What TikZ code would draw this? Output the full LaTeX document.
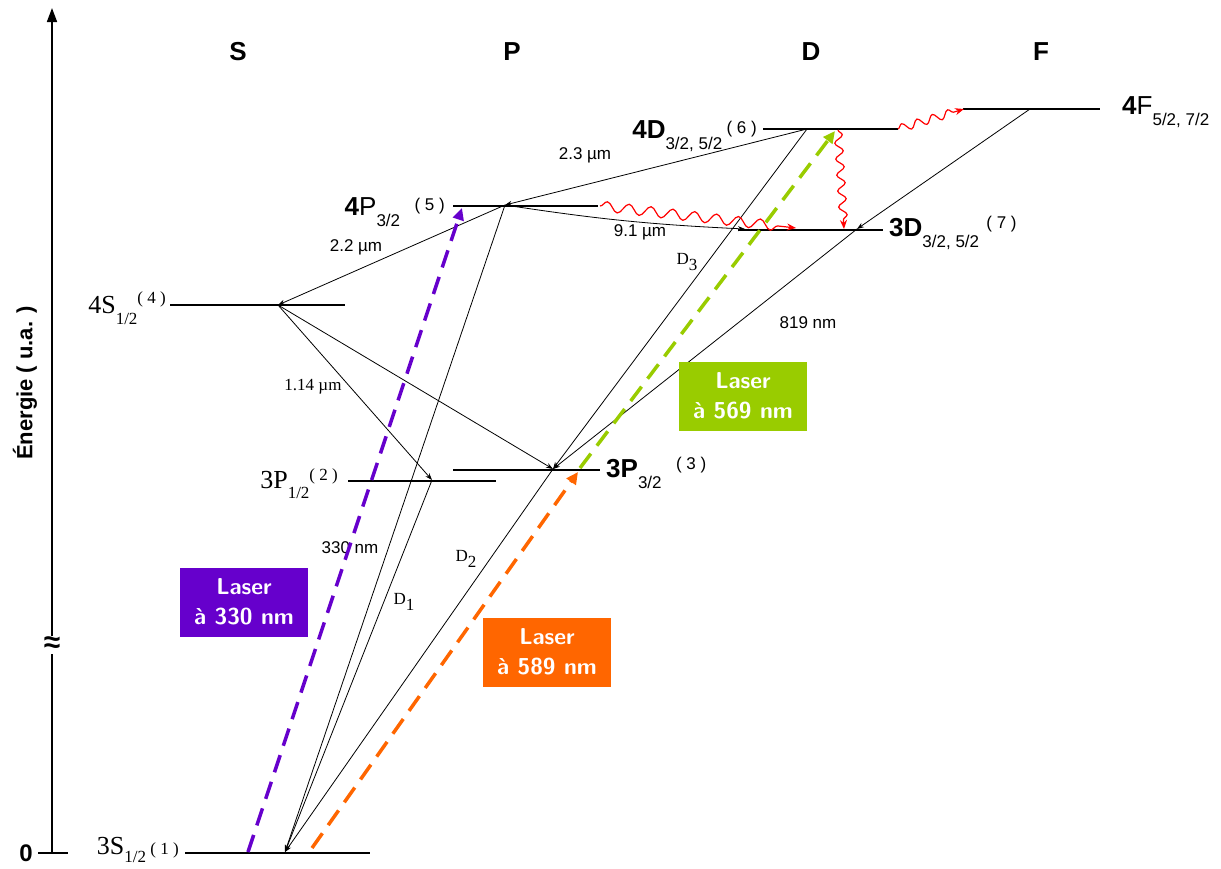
\documentclass[tikz,border=0pt]{standalone}
\usepackage{fontspec}
\setmainfont{Liberation Sans}
\newfontfamily\serifx{Liberation Serif}
\usetikzlibrary{arrows.meta,decorations.pathmorphing}
\definecolor{lpurple}{HTML}{6600CC}
\definecolor{lorange}{HTML}{FF6600}
\definecolor{lgreen}{HTML}{99CC00}
\newcommand\lvsub[1]{\raisebox{-0.4em}{\fontsize{17}{17}\selectfont #1}}
\newcommand\lvsubb[1]{\raisebox{-0.28em}{\fontsize{17}{17}\selectfont #1}}
\newcommand\lvnum[1]{{\fontsize{17}{17}\selectfont #1}}
\tikzset{
  level/.style={line width=2.2pt},
  lvlabel/.style={font=\fontsize{26}{26}\selectfont, inner sep=2pt},
  trans/.style={line width=0.8pt, -{Stealth[length=7pt,width=5pt]}},
  tlabel/.style={font=\fontsize{17}{17}\selectfont, inner sep=1pt},
  laser/.style={line width=3.5pt, dash pattern=on 18pt off 10pt, -{Triangle[length=12pt,width=11pt]}},
  laserbox/.style={text=white, font=\sffamily\bfseries\fontsize{23}{30}\selectfont, align=center, minimum width=128pt, minimum height=69pt, inner sep=0pt},
  wave/.style={red, line width=1.2pt, decorate, decoration={snake, amplitude=5pt, segment length=22pt, post length=8pt}},
  header/.style={font=\bfseries\fontsize{26}{26}\selectfont}
}
\begin{document}
\begin{tikzpicture}[x=1pt,y=-1pt]
\useasboundingbox (0,0) rectangle (1221,868);
% axis
\coordinate (ax0) at (52,853);
\coordinate (axT) at (52,8);
\draw[line width=1.6pt, -{Triangle[length=14pt,width=10pt]}] (ax0) -- (axT);
\draw[line width=1.6pt] (38,853) -- (68,853);
\node[font=\bfseries\fontsize{24}{24}\selectfont] (zero) at (26,853) {0};
\node[fill=white, inner sep=1pt, font=\bfseries\fontsize{30}{30}\selectfont] (approx) at (52,645) {≈};
\node[rotate=90, font=\bfseries\fontsize{22}{22}\selectfont] (elab) at (25,383) {Énergie ( u.a. )};
% headers
\node[header] (hS) at (238,52) {S};
\node[header] (hP) at (512,52) {P};
\node[header] (hD) at (811,52) {D};
\node[header] (hF) at (1041,52) {F};
% levels
\draw[level] (185,853) coordinate (l1a) -- (370,853) coordinate (l1b);
\draw[level] (348,481) coordinate (l2a) -- (496,481) coordinate (l2b);
\draw[level] (453,470) coordinate (l3a) -- (600,470) coordinate (l3b);
\draw[level] (170,305) coordinate (l4a) -- (345,305) coordinate (l4b);
\draw[level] (453,206) coordinate (l5a) -- (598,206) coordinate (l5b);
\draw[level] (763,129) coordinate (l6a) -- (898,129) coordinate (l6b);
\draw[level] (738,230) coordinate (l7a) -- (883,230) coordinate (l7b);
\draw[level] (963,109) coordinate (l8a) -- (1100,109) coordinate (l8b);
% level labels
\node[lvlabel, anchor=east] (n1) at ([xshift=-4pt,yshift=3pt]l1a) {\serifx 3S\lvsubb{1/2}\,\lvnum{( 1 )}};
\node[lvlabel, anchor=east] (n2) at ([xshift=-8pt,yshift=-3pt]l2a) {\serifx 3P\lvsub{1/2}\raisebox{0.3em}{\lvnum{( 2 )}}};
\node[lvlabel, anchor=west] (n3) at ([xshift=4pt,yshift=-3pt]l3b) {\textbf{3P}\lvsub{3/2}\ \ \raisebox{0.3em}{\lvnum{( 3 )}}};
\node[lvlabel, anchor=east] (n4) at ([xshift=-2pt,yshift=-3pt]l4a) {\serifx 4S\lvsub{1/2}\raisebox{0.4em}{\lvnum{( 4 )}}};
\node[lvlabel, anchor=east] (n5) at ([xshift=-6pt,yshift=-6pt]l5a) {\textbf{4}P\lvsub{3/2}\ \ \raisebox{0.2em}{\lvnum{( 5 )}}};
\node[lvlabel, anchor=east] (n6) at ([xshift=-4pt,yshift=-7pt]l6a) {\textbf{4D}\lvsub{3/2, 5/2}\,\raisebox{0.2em}{\lvnum{( 6 )}}};
\node[lvlabel, anchor=west] (n7) at ([xshift=4pt,yshift=-3pt]l7b) {\textbf{3D}\lvsub{3/2, 5/2}\ \raisebox{0.3em}{\lvnum{( 7 )}}};
\node[lvlabel, anchor=west] (n8) at ([xshift=20pt,yshift=-3pt]l8b) {\textbf{4}F\lvsub{5/2, 7/2}};
% transition points
\coordinate (p1) at (285,852);
\coordinate (p2) at (432,480);
\coordinate (p3) at (553,469);
\coordinate (p4) at (278,305);
\coordinate (p5) at (505,205);
\coordinate (p6) at (807,129);
\coordinate (p7) at (857,229);
\coordinate (p7w) at (745,229);
\coordinate (p8) at (1030,109);
% transitions
\draw[trans] (p5) -- (p4);
\draw[trans] (p6) -- (p5);
\draw[trans] (p5) to[bend right=3] (p7w);
\draw[trans] (p4) -- (p2);
\draw[trans] (p4) -- (p3);
\draw[trans] (p5) -- (p1);
\draw[trans] (p2) -- (p1);
\draw[trans] (p3) -- (p1);
\draw[trans] (p6) -- (p3);
\draw[trans] (p8) -- (p7);
\draw[trans] (p7) -- (p3);
% transition labels
\node[tlabel] (t22) at (356,247) {2.2 µm};
\node[tlabel] (t23) at (585,155) {2.3 µm};
\node[tlabel] (t91) at (640,232) {9.1 µm};
\node[tlabel, font=\serifx\fontsize{17}{17}\selectfont] (t114) at (313,387) {1.14 µm};
\node[tlabel] (t330) at (350,548) {330 nm};
\node[tlabel] (t819) at (808,323) {819 nm};
\node[tlabel, font=\serifx\fontsize{17}{17}\selectfont] (tD1) at (404,602) {D\lvsub{1}};
\node[tlabel, font=\serifx\fontsize{17}{17}\selectfont] (tD2) at (466,559) {D\lvsub{2}};
\node[tlabel, font=\serifx\fontsize{17}{17}\selectfont] (tD3) at (687,262) {D\lvsub{3}};
% lasers
\coordinate (lp0) at (248,852);
\coordinate (lp1) at (462,208);
\coordinate (lo0) at (312,848);
\coordinate (lo1) at (578,472);
\coordinate (lg0) at (580,468);
\coordinate (lg1) at (835,131);
\draw[laser, lpurple] (lp0) -- (lp1);
\draw[laser, lorange] (lo0) -- (lo1);
\draw[laser, lgreen] (lg0) -- (lg1);
\node[laserbox, fill=lpurple] (b330) at (244,602) {Laser\\à 330 nm};
\node[laserbox, fill=lorange] (b589) at (547,652) {Laser\\à 589 nm};
\node[laserbox, fill=lgreen] (b569) at (743,396) {Laser\\à 569 nm};
% wavy arrows
\coordinate (w1a) at (600,206);
\coordinate (w1b) at (796,228);
\coordinate (w2a) at (838,130);
\coordinate (w2b) at (844,229);
\coordinate (w3a) at (898,129);
\coordinate (w3b) at (964,109);
\draw[wave, -{Stealth[length=9pt,width=7pt]}] (w1a) -- (w1b);
\draw[wave, decoration={snake, amplitude=4pt, segment length=16pt, post length=8pt}, -{Stealth[length=9pt,width=7pt]}] (w2a) -- (w2b);
\draw[wave, decoration={snake, amplitude=4pt, segment length=16pt, post length=6pt}, -{Stealth[length=9pt,width=7pt]}] (w3a) -- (w3b);
\end{tikzpicture}
\end{document}
